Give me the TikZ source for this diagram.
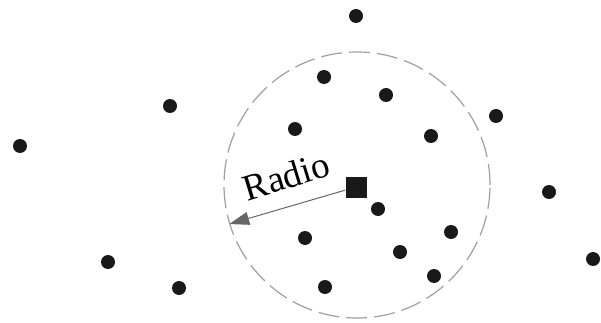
\documentclass[tikz,border=0pt]{standalone}
\usepackage{fontspec}
\setmainfont{Liberation Serif}
\usetikzlibrary{arrows.meta}

\begin{document}
\begin{tikzpicture}[
  x=1pt, y=-1pt,
  dot/.style    = {circle, fill=black!90, inner sep=0pt, minimum size=14pt},
  sink/.style   = {rectangle, fill=black!90, inner sep=0pt, minimum size=21pt},
  radius circ/.style = {circle, draw=gray!75, line width=1.2pt,
                  dash pattern=on 21pt off 7pt, inner sep=0pt,
                  minimum size=266pt},
  arr/.style    = {-{Triangle[length=20pt, width=13pt]}, gray!80!black, line width=1pt},
]
  \useasboundingbox (0,0) rectangle (601,323);
  \node[sink] (sink) at (356,187) {};
  \node[radius circ] (cover) at (357,185) {};
  % nodes around the sink
  \node[dot] (n1)  at (356,16)  {};
  \node[dot] (n2)  at (324,77)  {};
  \node[dot] (n3)  at (386,95)  {};
  \node[dot] (n4)  at (170,106) {};
  \node[dot] (n5)  at (20,146)  {};
  \node[dot] (n6)  at (295,129) {};
  \node[dot] (n7)  at (431,136) {};
  \node[dot] (n8)  at (496,116) {};
  \node[dot] (n9)  at (549,192) {};
  \node[dot] (n10) at (378,209) {};
  \node[dot] (n11) at (305,238) {};
  \node[dot] (n12) at (451,232) {};
  \node[dot] (n13) at (400,252) {};
  \node[dot] (n14) at (108,262) {};
  \node[dot] (n15) at (179,288) {};
  \node[dot] (n16) at (325,287) {};
  \node[dot] (n17) at (434,276) {};
  \node[dot] (n18) at (593,259) {};
  \draw[arr] (sink) -- (cover.197);
  \node[rotate=17, inner sep=0pt, font=\fontsize{37}{37}\selectfont] (lbl) at (286,176) {Radio};
\end{tikzpicture}
\end{document}
